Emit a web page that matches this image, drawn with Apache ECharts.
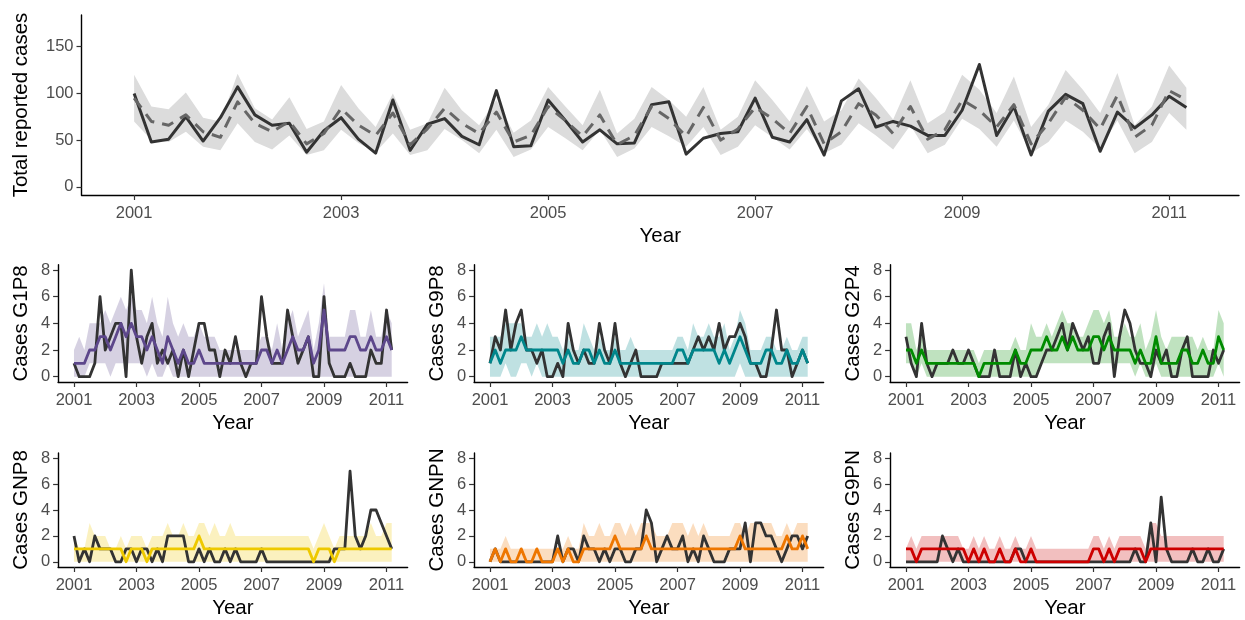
<!DOCTYPE html>
<html><head><meta charset="utf-8">
<script src="https://cdn.jsdelivr.net/npm/echarts@6/dist/echarts.min.js"></script>
<style>html,body{margin:0;padding:0;background:#fff}#c{width:1245px;height:620px}</style>
</head><body><div id="c"></div>
<script>
// time index: bimonthly from 2001
const START_YEAR = 2001, STEPS_PER_YEAR = 6, N_POINTS = 62;
const xTickLabels = [2001, 2003, 2005, 2007, 2009, 2011];
const topYTicks = [0, 50, 100, 150];
const smallYTicks = [0, 2, 4, 6, 8];

// Top panel: total reported cases
const totalObs = [100,48,51,75,49,74,107,77,66,68,37,60,74,51,36,93,39,
  67,73,54,45,103,43,44,93,71,48,61,46,47,88,91,35,52,57,59,95,53,48,72,
  34,92,105,64,70,65,55,55,82,131,55,86,34,81,99,89,38,80,63,77,97,85];
const totalFit = [95,70,66,77,59,53,91,68,59,70,46,57,84,66,55,79,45,
  62,84,68,57,80,48,55,86,71,54,77,45,55,86,73,54,85,50,62,85,73,57,86,
  46,59,89,77,57,86,51,61,93,82,64,88,46,68,96,82,62,98,53,66,103,93];
const totalLo = [70,50,48,59,43,39,68,48,40,55,34,39,61,47,37,57,34,
  39,62,50,36,61,32,40,64,52,39,61,32,41,64,54,43,64,34,43,66,53,40,62,
  36,45,68,55,40,66,36,45,73,62,43,71,36,48,71,59,41,71,36,48,79,61];
const totalHi = [120,86,83,101,74,70,121,84,72,96,62,70,109,84,64,100,61,
  68,106,82,66,93,58,71,107,86,66,104,57,73,107,93,75,107,61,75,114,93,70,108,
  70,82,116,95,72,114,68,80,120,104,79,118,64,88,125,104,79,122,66,86,130,106];

// G1P8
const g1p8Obs = [1,0,0,0,1,6,2,3,4,4,0,8, 3,1,3,4,1,2,1,2,0,2,0,2, 4,4,2,2,0,2,1,3,1,0,1,1, 6,3,1,1,1,5,3,1,2,3,0,0, 6,1,0,0,0,1,0,0,0,2,1,1,5,2];
const g1p8Fit = [1,1,1,2,2,3,3,2,3,4,3,4, 3,3,2,3,2,1,3,2,1,2,1,1, 2,1,1,1,1,1,1,1,1,1,1,1, 2,2,1,2,1,2,3,2,2,3,1,2, 5,2,2,2,2,3,3,2,2,3,2,2,3,2];
const g1p8Lo  = [0,0,0,1,1,1,1,0,1,1,1,1, 1,1,0,1,0,0,1,0,0,0,0,0, 0,0,0,0,0,0,0,0,0,0,0,0, 0,0,0,0,0,0,0,0,0,0,0,0, 0,0,0,0,0,0,0,0,0,0,0,0,0,0];
const g1p8Hi  = [2,3,2,4,4,4,5,4,5,6,5,6, 5,5,4,6,4,3,6,4,3,4,3,3, 4,3,3,3,2,2,2,2,2,2,2,2, 3,3,2,4,2,4,5,3,4,5,2,4, 7,3,3,3,3,5,5,3,3,5,3,3,5,4];

// G9P8
const g9p8Obs = [1,3,2,5,2,4,5,2,2,1,2,0, 0,1,0,4,2,1,2,1,1,4,2,1, 4,1,0,1,2,0,0,0,0,1,1,1, 1,1,1,2,3,2,3,2,4,2,3,3, 4,3,1,1,0,0,2,5,2,2,0,1,2,1];
const g9p8Fit = [1,2,1,2,2,2,3,2,2,2,2,2, 2,2,1,2,1,1,2,2,1,2,1,1, 2,1,1,1,1,1,1,1,1,1,1,1, 2,2,1,2,2,2,2,2,1,2,1,2, 3,2,1,1,1,2,2,1,1,2,1,1,2,1];
const g9p8Lo  = [0,0,0,1,0,0,1,1,0,1,0,0, 0,0,0,0,0,0,0,0,0,0,0,0, 0,0,0,0,0,0,0,0,0,0,0,0, 0,0,0,0,0,0,0,0,0,0,0,0, 1,0,0,0,0,0,0,0,0,0,0,0,0,0];
const g9p8Hi  = [3,3,3,4,4,4,4,3,3,4,3,4, 3,3,2,3,2,2,4,3,2,3,2,2, 3,2,2,3,2,2,2,2,2,2,2,2, 3,3,2,4,3,3,4,3,3,4,2,3, 5,4,2,2,2,3,3,2,2,3,2,2,3,3];

// G2P4
const g2p4Obs = [3,1,0,4,1,0,1,1,1,2,1,1, 2,1,0,0,0,2,0,0,0,2,0,1, 0,0,1,2,2,3,4,2,4,3,2,3, 1,1,3,4,0,3,5,4,2,1,1,0, 2,1,2,0,0,2,3,0,0,0,0,2,1,2];
const g2p4Fit = [2,2,1,2,1,1,1,1,1,1,1,1, 1,1,0,1,1,1,1,1,1,2,1,1, 2,2,2,3,2,2,3,2,3,2,2,2, 3,3,2,3,2,2,2,2,1,2,1,1, 3,1,1,1,1,2,2,1,1,2,1,1,3,2];
const g2p4Lo  = [1,1,0,1,0,0,0,0,0,0,0,0, 0,0,0,0,0,0,0,0,0,0,0,0, 0,0,1,1,1,1,1,1,1,1,1,1, 1,1,1,1,1,1,1,1,0,1,0,0, 1,0,0,0,0,0,0,0,0,0,0,0,1,0];
const g2p4Hi  = [4,4,2,3,2,2,2,2,2,2,2,2, 2,2,1,2,2,2,2,2,2,3,2,2, 4,3,3,4,3,4,5,4,4,3,3,4, 5,5,4,5,3,3,4,3,3,4,2,3, 5,3,2,3,3,3,3,3,2,3,2,2,5,4];

// GNP8
const gnp8Obs = [2,0,1,0,2,1,1,1,0,0,1,1, 0,1,1,0,1,0,2,2,2,2,0,0, 1,0,1,0,0,1,0,1,0,0,0,0, 1,0,0,0,0,0,0,0,0,0,0,0, 0,0,1,1,1,7,2,1,2,4,4,3,2,1];
const gnp8Fit = [1,1,1,1,1,1,1,1,1,1,0,1, 1,1,0,1,1,1,1,1,1,1,1,1, 2,1,1,1,1,1,1,1,1,1,1,1, 1,1,1,1,1,1,1,1,1,1,0,1, 1,1,0,1,1,1,1,1,1,1,1,1,1,1];
const gnp8Lo  = [0,0,0,0,0,0,0,0,0,0,0,0, 0,0,0,0,0,0,0,0,0,0,0,0, 0,0,0,0,0,0,0,0,0,0,0,0, 0,0,0,0,0,0,0,0,0,0,0,0, 0,0,0,0,0,0,0,0,0,0,0,0,0,0];
const gnp8Hi  = [2,1,1,3,2,2,2,1,1,2,1,2, 2,2,1,2,2,2,3,2,2,3,2,2, 3,3,2,3,2,2,3,2,2,2,2,2, 2,2,2,2,2,2,2,2,2,2,1,2, 3,2,1,2,2,2,2,2,2,3,2,2,3,3];

// GNPN
const gnpnObs = [0,1,0,0,0,0,0,0,0,0,0,0, 0,2,0,1,1,0,2,1,1,0,1,0, 1,1,0,0,1,1,4,3,0,1,2,1, 1,2,0,1,0,2,1,0,0,0,1,1, 1,3,0,3,3,2,2,1,0,1,2,2,1,2];
const gnpnFit = [0,1,0,1,0,0,1,0,0,1,0,0, 0,1,0,1,0,0,1,1,1,1,1,1, 2,1,1,1,1,1,2,1,1,1,1,1, 1,1,1,1,1,1,1,1,1,1,1,1, 2,1,1,1,1,1,1,1,1,2,1,1,2,1];
const gnpnLo  = [0,0,0,0,0,0,0,0,0,0,0,0, 0,0,0,0,0,0,0,0,0,0,0,0, 0,0,0,0,0,0,0,0,0,0,0,0, 0,0,0,0,0,0,0,0,0,0,0,0, 0,0,0,0,0,0,0,0,0,0,0,0,0,0];
const gnpnHi  = [1,1,1,2,1,1,1,1,1,1,1,1, 1,1,1,2,1,1,3,2,2,3,2,2, 3,3,2,3,2,3,3,3,2,2,2,3, 3,3,2,3,2,3,2,2,2,2,2,3, 3,2,3,3,3,3,3,2,2,3,2,3,3,3];

// G9PN
const g9pnObs = [0,0,0,0,0,0,0,2,1,0,1,0, 0,0,0,0,0,0,0,0,0,1,1,0, 0,0,0,0,0,0,0,0,0,0,0,0, 0,0,0,0,0,0,0,0,1,0,0,3, 0,5,1,0,0,0,0,1,0,0,1,0,0,1];
const g9pnFit = [1,1,0,1,1,1,1,1,1,1,1,1, 0,1,0,1,0,0,1,0,0,1,0,0, 1,0,0,0,0,0,0,0,0,0,0,0, 1,1,0,1,0,1,1,1,1,1,0,1, 1,1,1,1,1,1,1,1,1,1,1,1,1,1];
const g9pnLo  = [0,0,0,0,0,0,0,0,0,0,0,0, 0,0,0,0,0,0,0,0,0,0,0,0, 0,0,0,0,0,0,0,0,0,0,0,0, 0,0,0,0,0,0,0,0,0,0,0,0, 0,0,0,0,0,0,0,0,0,0,0,0,0,0];
const g9pnHi  = [1,2,1,2,2,2,2,2,2,2,2,1, 1,2,1,2,1,1,2,1,1,2,1,1, 2,1,1,1,1,1,1,1,1,1,1,1, 2,2,1,2,1,2,2,2,2,2,1,3, 3,2,2,2,2,2,2,2,2,2,2,2,2,2];

const panels = [
  {title:'Cases G1P8', obs:g1p8Obs, fit:g1p8Fit, lo:g1p8Lo, hi:g1p8Hi, color:'#5D478B', band:'rgba(93,71,139,0.25)'},
  {title:'Cases G9P8', obs:g9p8Obs, fit:g9p8Fit, lo:g9p8Lo, hi:g9p8Hi, color:'#00868B', band:'rgba(0,134,139,0.25)'},
  {title:'Cases G2P4', obs:g2p4Obs, fit:g2p4Fit, lo:g2p4Lo, hi:g2p4Hi, color:'#008B00', band:'rgba(0,139,0,0.25)'},
  {title:'Cases GNP8', obs:gnp8Obs, fit:gnp8Fit, lo:gnp8Lo, hi:gnp8Hi, color:'#EEC900', band:'rgba(238,201,0,0.25)'},
  {title:'Cases GNPN', obs:gnpnObs, fit:gnpnFit, lo:gnpnLo, hi:gnpnHi, color:'#EE7600', band:'rgba(238,118,0,0.25)'},
  {title:'Cases G9PN', obs:g9pnObs, fit:g9pnFit, lo:g9pnLo, hi:g9pnHi, color:'#CD0000', band:'rgba(205,0,0,0.25)'}
];

const years = Array.from({length:N_POINTS}, (_, i) => START_YEAR + i / STEPS_PER_YEAR);
const xPad = (years[N_POINTS-1] - years[0]) * 0.05;
const FONT = "'Liberation Sans', Arial, Helvetica, sans-serif";
const pts = arr => arr.map((v, i) => [years[i], v]);
const plain = v => String(Math.round(v));

const grids = [], xAxes = [], yAxes = [], series = [];

function addPanel(k, grid, yMin, yMax, yTicks, yName, yNameGap) {
  grids.push(grid);
  xAxes.push({
    type:'value', gridIndex:k, min: years[0]-xPad, max: years[N_POINTS-1]+xPad,
    axisLine:{show:true, onZero:false, lineStyle:{color:'#000', width:1.4}},
    axisTick:{show:true, customValues:xTickLabels, length:5, lineStyle:{color:'#333', width:1.2}},
    axisLabel:{show:true, customValues:xTickLabels, formatter:plain, color:'#4D4D4D', fontSize:16.5, fontFamily:FONT, margin:10},
    splitLine:{show:false},
    name:'Year', nameLocation:'middle', nameGap:31,
    nameTextStyle:{color:'#000', fontSize:20.5, fontFamily:FONT}
  });
  yAxes.push({
    type:'value', gridIndex:k, min:yMin, max:yMax,
    axisLine:{show:true, onZero:false, lineStyle:{color:'#000', width:1.4}},
    axisTick:{show:true, customValues:yTicks, length:5, lineStyle:{color:'#333', width:1.2}},
    axisLabel:{show:true, customValues:yTicks, formatter:plain, color:'#4D4D4D', fontSize:16.5, fontFamily:FONT, margin:8},
    splitLine:{show:false},
    name:yName, nameLocation:'middle', nameGap:yNameGap,
    nameTextStyle:{color:'#000', fontSize:20.5, fontFamily:FONT}
  });
}

function addSeries(k, obs, fit, lo, hi, fitColor, bandColor, dashed, lw) {
  // ribbon between lo and hi, drawn through the axis scales
  series.push({type:'custom', xAxisIndex:k, yAxisIndex:k, data:[[years[0], lo[0]]], silent:true, z:1,
    renderItem: (params, api) => {
      const poly = [];
      for (let i = 0; i < N_POINTS; i++) poly.push(api.coord([years[i], hi[i]]));
      for (let i = N_POINTS - 1; i >= 0; i--) poly.push(api.coord([years[i], lo[i]]));
      return {type:'polygon', shape:{points:poly}, style:{fill:bandColor, stroke:null}};
    }});
  series.push({type:'line', xAxisIndex:k, yAxisIndex:k, data:pts(obs), symbol:'none',
    lineStyle:{color:'#333333', width:lw, join:'round'}, silent:true, z:2});
  series.push({type:'line', xAxisIndex:k, yAxisIndex:k, data:pts(fit), symbol:'none',
    lineStyle:{color:fitColor, width:lw, type: dashed ? [12,8] : 'solid', join:'round'}, silent:true, z:3});
}

addPanel(0, {left:81.5, top:15, width:1157.5, height:180}, -8.8, 184, topYTicks, 'Total reported cases', 50);
addSeries(0, totalObs, totalFit, totalLo, totalHi, '#666666', '#DCDCDC', true, 3);

const lefts = [58.1, 474.1, 890.1];
const tops = [264.7, 453];
const heights = [117.3, 116];
panels.forEach((p, j) => {
  const k = j + 1;
  const r = Math.floor(j / 3), c = j % 3;
  addPanel(k, {left:lefts[c], top:tops[r], width:349.5, height:heights[r]}, -0.4, 8.4, smallYTicks, p.title, 26);
  addSeries(k, p.obs, p.fit, p.lo, p.hi, p.color, p.band, false, 2.8);
});

const chart = echarts.init(document.getElementById('c'), null, {renderer:'canvas'});
chart.setOption({
  animation:false, backgroundColor:'#fff',
  grid:grids, xAxis:xAxes, yAxis:yAxes, series:series
});
</script></body></html>
